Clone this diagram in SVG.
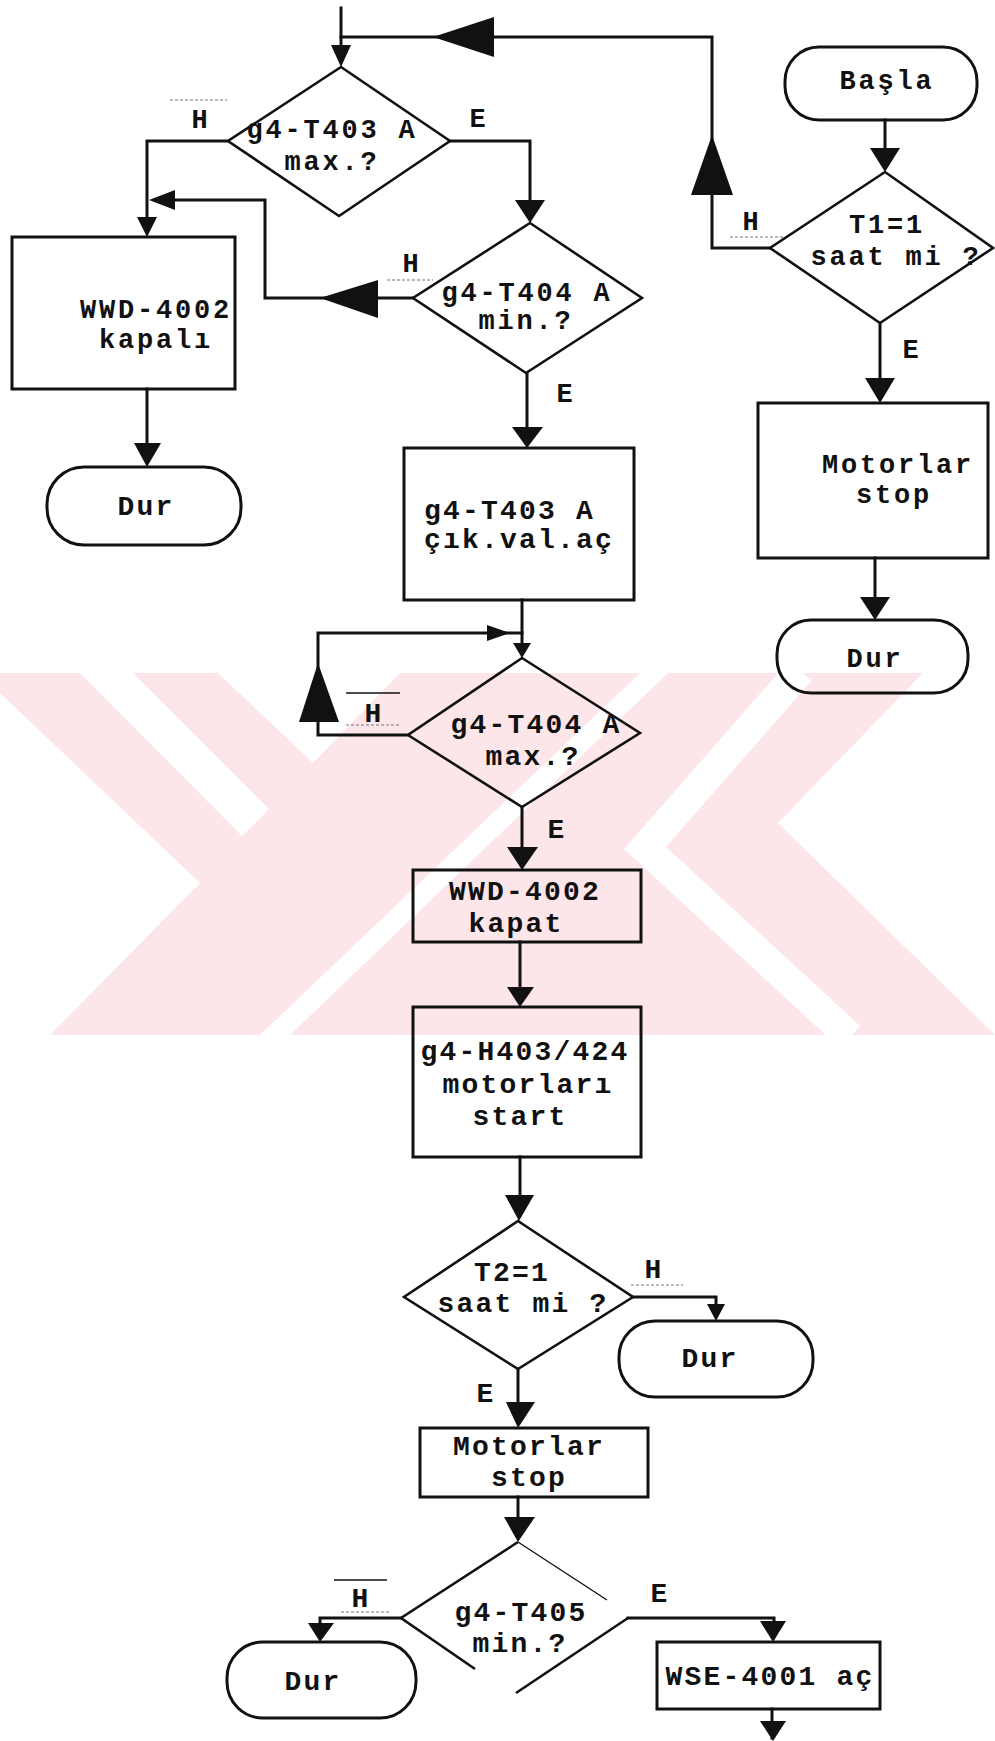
<svg xmlns="http://www.w3.org/2000/svg" width="995" height="1741" viewBox="0 0 995 1741">
<style>
.ln{fill:none;stroke:#111;stroke-width:3;stroke-linejoin:miter;stroke-linecap:square}
.sh{fill:none;stroke:#111;stroke-width:3}
.dm{fill:none;stroke:#111;stroke-width:2.6;stroke-linejoin:miter}
.thin{fill:none;stroke:#111;stroke-width:1.4}
.ah{fill:#111;stroke:none}
.faint{fill:none;stroke:#777;stroke-width:1.2;stroke-dasharray:3 2}
.up{font-family:"Liberation Mono","DejaVu Sans Mono",monospace;font-weight:bold;font-size:27px;letter-spacing:2.8px;fill:#111;text-anchor:middle}
.lo{font-family:"Liberation Mono","DejaVu Sans Mono",monospace;font-weight:bold;font-size:28px;letter-spacing:2.2px;fill:#111;text-anchor:middle}
.st{text-anchor:start}
.wm{fill:#fde6ea}
.wmw{fill:#fff}
.wms{fill:none;stroke:#fff;stroke-linejoin:miter}
</style>
<rect width="995" height="1741" fill="#fff"/>
<g id="watermark">
<rect class="wm" x="0" y="673" width="995" height="362"/>
<polygon class="wmw" points="0,693 200,883 50,1035 0,1035"/>
<polygon class="wmw" points="218,673 400,673 313,763"/>
<polygon class="wmw" points="80,673 133,673 269,809 242,836"/>
<polygon class="wmw" points="640,673 668,673 290,1035 260,1035"/>
<polygon class="wmw" points="923,673 995,673 995,1035 778,823"/>
<polyline class="wms" stroke-width="30" points="800,671 645,848 850,1037"/>
</g>
<g id="connectors">
<polyline class="ln" points="341,8 341,60"/>
<polyline class="ln" points="341,37 712,37 712,248 770,248"/>
<polyline class="ln" points="228,141 147,141 147,230"/>
<polyline class="ln" points="450,141 530,141 530,215"/>
<polyline class="ln" points="413,298 265,298 265,200 155,200"/>
<polyline class="ln" points="147,389 147,460"/>
<polyline class="ln" points="885,120 885,165"/>
<polyline class="ln" points="880,323 880,396"/>
<polyline class="ln" points="875,558 875,613"/>
<polyline class="ln" points="527,373 527,441"/>
<polyline class="ln" points="522,600 522,652"/>
<polyline class="ln" points="408,735 318,735 318,633 522,633"/>
<polyline class="ln" points="522,807 522,864"/>
<polyline class="ln" points="520,942 520,1001"/>
<polyline class="ln" points="520,1157 520,1214"/>
<polyline class="ln" points="633,1297 716,1297 716,1315"/>
<polyline class="ln" points="518,1369 518,1422"/>
<polyline class="ln" points="518,1497 518,1536"/>
<polyline class="ln" points="401,1618 320,1618 320,1636"/>
<polyline class="ln" points="628,1618 774,1618 774,1636"/>
<polyline class="ln" points="772,1709 772,1738"/>
<polygon class="ah" points="331,45 351,45 341,67"/>
<polygon class="ah" points="433,37 494,17 494,57"/>
<polygon class="ah" points="712,135 691,195 733,195"/>
<polygon class="ah" points="137,217 157,217 147,237"/>
<polygon class="ah" points="515,200 545,200 530,223"/>
<polygon class="ah" points="320,298 378,280 378,318"/>
<polygon class="ah" points="149,200 175,190 175,210"/>
<polygon class="ah" points="134,443 161,443 147,467"/>
<polygon class="ah" points="870,148 900,148 885,172"/>
<polygon class="ah" points="865,378 895,378 880,403"/>
<polygon class="ah" points="860,597 890,597 875,620"/>
<polygon class="ah" points="512,427 543,427 527,448"/>
<polygon class="ah" points="513,643 531,643 522,658"/>
<polygon class="ah" points="510,633 487,625 487,641"/>
<polygon class="ah" points="318,663 299,722 339,722"/>
<polygon class="ah" points="507,847 538,847 522,870"/>
<polygon class="ah" points="507,987 534,987 520,1007"/>
<polygon class="ah" points="505,1195 534,1195 519,1221"/>
<polygon class="ah" points="707,1304 725,1304 716,1321"/>
<polygon class="ah" points="506,1402 535,1402 518,1428"/>
<polygon class="ah" points="504,1517 535,1517 518,1542"/>
<polygon class="ah" points="308,1623 334,1623 320,1642"/>
<polygon class="ah" points="760,1621 786,1621 773,1642"/>
<polygon class="ah" points="760,1721 786,1721 773,1741"/>
<line class="faint" x1="170" y1="100" x2="227" y2="100"/>
<text class="up" x="201" y="128">H</text>
<text class="up" x="479" y="127">E</text>
<line class="faint" x1="387" y1="280" x2="433" y2="280"/>
<text class="up" x="412" y="272">H</text>
<text class="up" x="566" y="402">E</text>
<line class="faint" x1="730" y1="237" x2="783" y2="237"/>
<text class="up" x="752" y="230">H</text>
<text class="up" x="912" y="358">E</text>
<line class="thin" x1="346" y1="693" x2="400" y2="693"/>
<line class="faint" x1="346" y1="725" x2="400" y2="725"/>
<text class="lo" x="374" y="722">H</text>
<text class="lo" x="557" y="838">E</text>
<line class="faint" x1="631" y1="1285" x2="683" y2="1285"/>
<text class="lo" x="654" y="1278">H</text>
<text class="lo" x="486" y="1402">E</text>
<line class="thin" x1="334" y1="1580" x2="387" y2="1580"/>
<line class="faint" x1="341" y1="1612" x2="389" y2="1612"/>
<text class="lo" x="361" y="1607">H</text>
<text class="lo" x="660" y="1602">E</text>
</g>
<g id="d1">
<polygon class="dm" points="341,67 450,141 339,216 228,141"/>
<text class="up" x="332" y="138">g4-T403 A</text>
<text class="up" x="332" y="170">max.?</text>
</g>
<g id="d2">
<polygon class="dm" points="530,223 642,298 526,373 413,298"/>
<text class="up" x="527" y="301">g4-T404 A</text>
<text class="up" x="526" y="329">min.?</text>
</g>
<g id="r1">
<rect class="sh" x="12" y="237" width="223" height="152"/>
<text class="up" x="156" y="318">WWD-4002</text>
<text class="up" x="156" y="348">kapalı</text>
</g>
<g id="o1">
<rect class="sh" x="47" y="467" width="194" height="78" rx="37"/>
<text class="lo" x="146" y="515">Dur</text>
</g>
<g id="start">
<rect class="sh" x="785" y="47" width="192" height="73" rx="34"/>
<text class="up" x="887" y="89">Başla</text>
</g>
<g id="d3">
<polygon class="dm" points="885,172 993,248 880,323 770,248"/>
<text class="up" x="887" y="233">T1=1</text>
<text class="up" x="896" y="265">saat mi ?</text>
</g>
<g id="r2">
<rect class="sh" x="758" y="403" width="230" height="155"/>
<text class="up" x="898" y="473">Motorlar</text>
<text class="up" x="894" y="503">stop</text>
</g>
<g id="o2">
<rect class="sh" x="777" y="620" width="191" height="73" rx="34"/>
<text class="up" x="875" y="667">Dur</text>
</g>
<g id="r3">
<rect class="sh" x="404" y="448" width="230" height="152"/>
<text class="lo st" x="424" y="519">g4-T403 A</text>
<text class="lo st" x="424" y="548">çık.val.aç</text>
</g>
<g id="d4">
<polygon class="dm" points="522,658 640,733 522,807 408,735"/>
<text class="lo" x="536" y="733">g4-T404 A</text>
<text class="lo" x="533" y="765">max.?</text>
</g>
<g id="r4">
<rect class="sh" x="413" y="870" width="228" height="72"/>
<text class="lo" x="525" y="900">WWD-4002</text>
<text class="lo" x="516" y="932">kapat</text>
</g>
<g id="r5">
<rect class="sh" x="413" y="1007" width="228" height="150"/>
<text class="lo" x="525" y="1060">g4-H403/424</text>
<text class="lo" x="528" y="1093">motorları</text>
<text class="lo" x="520" y="1125">start</text>
</g>
<g id="d5">
<polygon class="dm" points="518,1221 633,1297 518,1369 404,1297"/>
<text class="lo" x="512" y="1281">T2=1</text>
<text class="lo" x="523" y="1312">saat mi ?</text>
</g>
<g id="o3">
<rect class="sh" x="619" y="1321" width="194" height="76" rx="36"/>
<text class="lo" x="710" y="1367">Dur</text>
</g>
<g id="r6">
<rect class="sh" x="420" y="1428" width="228" height="69"/>
<text class="lo" x="529" y="1455">Motorlar</text>
<text class="lo" x="529" y="1486">stop</text>
</g>
<g id="d6">
<polyline class="dm" points="475,1669 401,1618 518,1542"/>
<polyline class="dm" points="516,1693 628,1618"/>
<line class="thin" x1="518" y1="1542" x2="607" y2="1600"/>
<text class="lo" x="521" y="1621">g4-T405</text>
<text class="lo" x="520" y="1652">min.?</text>
</g>
<g id="o4">
<rect class="sh" x="227" y="1642" width="189" height="76" rx="36"/>
<text class="lo" x="313" y="1690">Dur</text>
</g>
<g id="r7">
<rect class="sh" x="657" y="1642" width="223" height="67"/>
<text class="lo" x="770" y="1685">WSE-4001 aç</text>
</g>
</svg>
